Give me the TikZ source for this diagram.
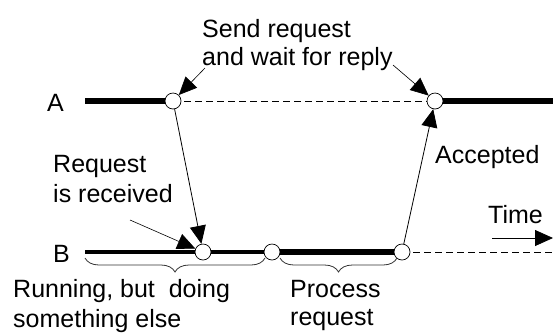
\documentclass[tikz,border=0pt]{standalone}
\usepackage{fontspec}
\setmainfont{Liberation Sans}
\usetikzlibrary{arrows.meta,decorations.pathreplacing}

\tikzset{
  event/.style={circle, draw, fill=white, line width=0.7pt, minimum size=16pt, inner sep=0pt},
  txt/.style={anchor=base west, inner sep=0pt, font=\fontsize{25}{30}\selectfont},
  busy/.style={line width=6pt},
  running/.style={line width=4pt},
  idle/.style={line width=0.8pt, dash pattern=on 7pt off 4pt},
  msg/.style={line width=0.8pt, -{Triangle[length=18pt,width=16pt]}},
  pointer/.style={line width=0.6pt, -{Triangle[length=18pt,width=16pt]}},
  span/.style={line width=0.8pt, draw=black!80, decorate,
               decoration={brace, mirror, amplitude=14pt}}
}

\begin{document}
\begin{tikzpicture}[x=1pt, y=-1pt]
  \useasboundingbox (0,0) rectangle (553,333);

  % ends of the two time lines
  \coordinate (astart) at (85,101);
  \coordinate (aend) at (553,101);
  \coordinate (bstart) at (85,252);
  \coordinate (bend) at (553,252);

  % process A
  \draw[busy] (astart) -- (173,101);
  \draw[idle] (173,101) -- (435,101);
  \draw[busy] (435,101) -- (aend);

  % process B
  \draw[running] (bstart) -- (272,252);
  \draw[busy] (272,252) -- (402,252);
  \draw[idle] (402,252) -- (bend);

  \node[event] (a1) at (173,101) {};
  \node[event] (a2) at (435,101) {};
  \node[event] (b1) at (203,252) {};
  \node[event] (b2) at (272,252) {};
  \node[event] (b3) at (402,252) {};

  % messages
  \draw[msg] (a1) -- (b1);
  \draw[msg] (b3) -- (a2);

  % labels
  \node[txt] (lA) at (47,111) {A};
  \node[txt] (lB) at (53,262) {B};

  \node[txt] (send1) at (202,37) {Send request};
  \node[txt] (send2) at (202,65) {and wait for reply};
  \coordinate (sendL) at (205,68);
  \coordinate (sendR) at (393,65);
  \draw[pointer] (sendL) -- (a1);
  \draw[pointer] (sendR) -- (a2);

  \node[txt] (recv1) at (53,172) {Request};
  \node[txt] (recv2) at (53,202) {is received};
  \coordinate (recvP) at (130,220);
  \draw[pointer] (recvP) -- (b1);

  \node[txt] (acc) at (435,163) {Accepted};

  \node[txt] (time) at (488,223) {Time};
  \coordinate (timeS) at (492,238);
  \coordinate (timeE) at (553,238);
  \draw[msg] (timeS) -- (timeE);

  % braces under B
  \draw[span] (85,258) -- (265,258);
  \draw[span] (280,258) -- (397,258);

  \node[txt] (run1) at (13,297) {Running, but\ \ doing};
  \node[txt] (run2) at (13,327) {something else};
  \node[txt] (proc1) at (290,297) {Process};
  \node[txt] (proc2) at (290,325) {request};
\end{tikzpicture}
\end{document}
